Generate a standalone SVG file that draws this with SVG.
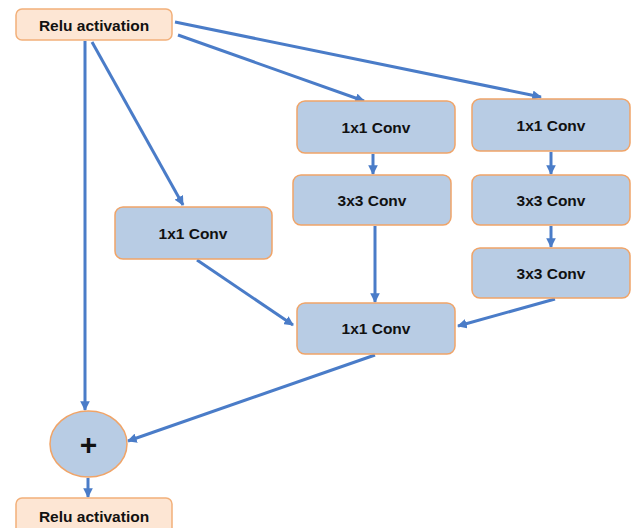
<svg xmlns="http://www.w3.org/2000/svg" width="632" height="528" viewBox="0 0 632 528">
  <defs>
    <marker id="arr" viewBox="0 0 10 10" refX="9" refY="5" markerWidth="3.2" markerHeight="3.2" orient="auto" markerUnits="strokeWidth">
      <path d="M0,0 L10,5 L0,10 z" fill="#4a7cc8"/>
    </marker>
    <style>
      .relu { fill: #fde6d4; stroke: #f2b07a; stroke-width: 1.5; }
      .conv { fill: #b8cce4; stroke: #f0a468; stroke-width: 1.5; }
      .lbl { font-family: "Liberation Sans", Arial, sans-serif; font-weight: bold; font-size: 15.5px; fill: #111; text-anchor: middle; dominant-baseline: central; }
      .edge { stroke: #4a7cc8; stroke-width: 3; fill: none; marker-end: url(#arr); }
      .edge-in { stroke: #a9c4ec; stroke-width: 0.8; fill: none; }
    </style>
  </defs>

  <rect width="632" height="528" fill="#ffffff"/>

  <!-- connectors -->
  <g id="connectors">
    <path class="edge" d="M85,41 L85,410"/>
    <path class="edge" d="M92,42 L183,205"/>
    <path class="edge" d="M178,35 L364,101"/>
    <path class="edge" d="M175,22 L541,97"/>
    <path class="edge" d="M373,154 L373,174"/>
    <path class="edge" d="M551,152 L551,174"/>
    <path class="edge" d="M551,226 L551,247"/>
    <path class="edge" d="M375,226 L375,302"/>
    <path class="edge" d="M197,260 L293,325"/>
    <path class="edge" d="M555,299 L458,326"/>
    <path class="edge" d="M375,355 L128,441"/>
    <path class="edge" d="M88,478 L88,497"/>
  </g>

  <!-- nodes -->
  <g id="relu-top">
    <rect class="relu" x="16" y="9" width="156" height="31" rx="6"/>
    <text class="lbl" x="94" y="25">Relu activation</text>
  </g>
  <g id="conv-a">
    <rect class="conv" x="115" y="207" width="157" height="52" rx="8"/>
    <text class="lbl" x="193" y="233">1x1 Conv</text>
  </g>
  <g id="conv-b1">
    <rect class="conv" x="297" y="101" width="158" height="52" rx="8"/>
    <text class="lbl" x="376" y="127">1x1 Conv</text>
  </g>
  <g id="conv-b2">
    <rect class="conv" x="293" y="175" width="158" height="50" rx="8"/>
    <text class="lbl" x="372" y="200">3x3 Conv</text>
  </g>
  <g id="conv-c1">
    <rect class="conv" x="472" y="99" width="158" height="52" rx="8"/>
    <text class="lbl" x="551" y="125">1x1 Conv</text>
  </g>
  <g id="conv-c2">
    <rect class="conv" x="472" y="175" width="158" height="50" rx="8"/>
    <text class="lbl" x="551" y="200">3x3 Conv</text>
  </g>
  <g id="conv-c3">
    <rect class="conv" x="472" y="248" width="158" height="50" rx="8"/>
    <text class="lbl" x="551" y="273">3x3 Conv</text>
  </g>
  <g id="conv-d">
    <rect class="conv" x="297" y="303" width="158" height="51" rx="8"/>
    <text class="lbl" x="376" y="328">1x1 Conv</text>
  </g>
  <g id="add">
    <ellipse class="conv" cx="88.5" cy="444" rx="38.5" ry="33"/>
    <text class="lbl" x="88.5" y="444" style="font-size:30px">+</text>
  </g>
  <g id="relu-bottom">
    <rect class="relu" x="16" y="498" width="156" height="40" rx="6"/>
    <text class="lbl" x="94" y="516">Relu activation</text>
  </g>
</svg>
